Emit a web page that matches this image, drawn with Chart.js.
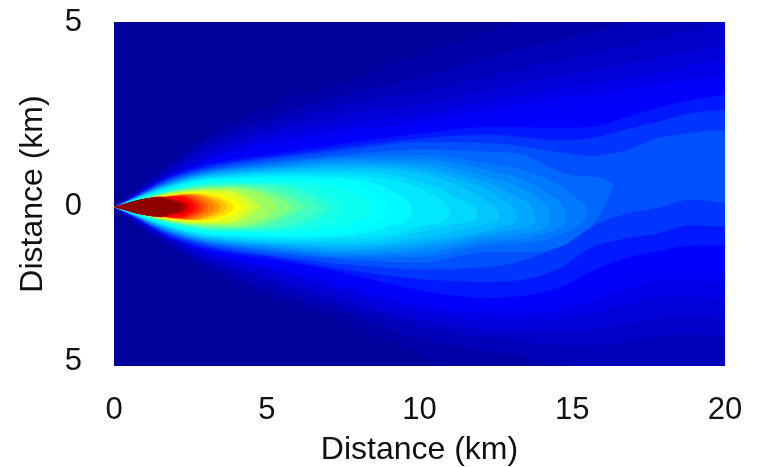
<!DOCTYPE html>
<html>
<head>
<meta charset="utf-8">
<title>Plume</title>
<script src="https://cdn.jsdelivr.net/npm/chart.js@4/dist/chart.umd.min.js"></script>
<style>
  html, body { margin: 0; background: #fff; }
  canvas { display: block; }
</style>
</head>
<body>
<canvas id="plume" width="759" height="467"></canvas>
<script>
// Axis ticks. The picture's left axis is not evenly spaced: 0 sits on the plume
// axis and the lower 5 is placed by hand, so the tick values are read off as drawn.
const xTicks = [0, 5, 10, 15, 20];
const yTickValues = [5, 0, -4.17];
const yTickLabels = ['5', '0', '5'];

// Filled contours, lowest level first. For each level: colour, distance along the
// plume (km), and the upper and lower edge of the contour (km) at those distances.
const farX = [0, 1, 3, 5, 8, 10, 13, 15, 17, 18.5, 20];
const wideX = [0, .6, 1.7, 2.8, 3.9, 5.4, 7.6, 10, 12.3, 14.5, 15.6, 16.7, 17.8, 18.9, 20];

const levelColors = [
  '#00009a', '#0000a8', '#0000b8', '#0000c8', '#0000d8', '#0000e8', '#0000f8', '#0000ff',
  '#0018ff', '#0034ff', '#0050ff', '#0068ff', '#0078ff', '#0088ff', '#0098ff', '#00a8ff',
  '#00b8ff', '#00c8ff', '#00d8ff', '#00e8ff', '#00f8ff', '#00ffff', '#0cfff3', '#18ffe7',
  '#2cffd3', '#40ffbf', '#60ff9f', '#80ff80', '#a0ff60', '#c0ff40', '#e0ff20', '#ffff00',
  '#ffe000', '#ffc000', '#ffa000', '#ff8000', '#ff6000', '#ff4000', '#ff2000', '#ff0000',
  '#e00000', '#c00000', '#a80000', '#8f0000',
];

const levelX = [
  [0, 20],
  farX, farX, farX, farX, farX, farX, farX,
  wideX, wideX, wideX,
  [0, .6, 1.7, 2.8, 3.9, 5.4, 7.6, 10, 12.3, 13.4, 14.3, 15, 16, 16.35],
  [0, .6, 1.7, 2.8, 3.9, 5.4, 7.6, 10, 12.3, 13.4, 14.5, 15.2, 15.45, 15.5],
  [0, .6, 1.7, 2.8, 3.9, 5.4, 7.6, 10, 12.3, 13.4, 14.2, 14.72, 14.8],
  [0, .6, 1.7, 2.8, 3.9, 5.4, 7.6, 10, 12.3, 13.4, 14, 14.22, 14.3],
  [0, .6, 1.7, 2.8, 3.9, 5.4, 7.6, 10, 12.3, 13.2, 13.72, 13.8],
  [0, .6, 1.7, 2.8, 3.9, 5.4, 7.6, 10, 12.3, 12.9, 13.12, 13.2],
  [0, .6, 1.7, 2.8, 3.9, 5.4, 7.6, 10, 11.5, 12.3, 12.52, 12.6],
  [0, .6, 1.7, 2.8, 3.9, 5.4, 7.6, 9, 10.5, 11.5, 11.82, 11.9],
  [0, .6, 1.7, 2.8, 3.9, 5.4, 7.6, 9, 10.3, 10.92, 11],
  [0, .6, 1.7, 2.8, 3.9, 5.4, 7.6, 9, 9.72, 9.8],
  [0, .6, 1.7, 2.8, 3.9, 5.4, 7.6, 8.5, 9.02, 9.1],
  [0, .6, 1.7, 2.8, 3.9, 5.4, 7, 8, 8.43, 8.5],
  [0, .6, 1.7, 2.8, 3.9, 5.4, 6.5, 7.2, 7.53, 7.6],
  [0, .6, 1.7, 2.8, 3.9, 5.4, 6.3, 6.98, 7.1],
  [0, .6, 1.7, 2.8, 3.9, 5.4, 6.2, 6.62, 6.7],
  [0, .5, 1.7, 2.8, 3.9, 5, 6.1, 6.2],
  [0, .5, 1.7, 2.8, 3.9, 5, 5.72, 5.8],
  [0, .5, 1.7, 2.8, 3.9, 4.9, 5.22, 5.3],
  [0, .5, 1.7, 2.8, 3.6, 4.4, 4.72, 4.8],
  [0, .5, 1.7, 2.8, 3.6, 4.2, 4.42, 4.5],
  [0, .5, 1, 1.7, 2.8, 3.6, 4.12, 4.2],
  [0, .5, 1, 1.7, 2.8, 3.5, 3.88, 3.95],
  [0, .4, 1, 1.7, 2.6, 3.2, 3.64, 3.7],
  [0, .4, 1, 1.7, 2.6, 3.1, 3.44, 3.5],
  [0, .4, 1, 1.7, 2.4, 3, 3.25, 3.3],
  [0, .3, 1, 1.7, 2.4, 2.8, 3.05, 3.1],
  [0, .3, 1, 1.7, 2.3, 2.7, 2.9, 2.95],
  [0, .3, 1, 1.7, 2.2, 2.55, 2.75, 2.8],
  [0, .3, 1, 1.6, 2.1, 2.45, 2.6, 2.65],
  [0, .3, .6, 1, 1.5, 2, 2.45, 2.5],
  [0, .3, .6, 1, 1.5, 2, 2.35, 2.4],
  [0, .3, .6, 1, 1.5, 1.9, 2.25, 2.3],
  [0, .3, .6, 1, 1.5, 1.9, 2.15, 2.2],
];

const levelUp = [
  [5, 5],
  [0, .65, 1.9, 2.7, 3.5, 4.1, 4.92, 5.5, 6, 6.4, 6.8],
  [0, .6, 1.75, 2.4, 3.15, 3.5, 4.2, 4.6, 5, 5.3, 5.6],
  [0, .55, 1.6, 2.2, 2.85, 3.1, 3.7, 4.05, 4.4, 4.7, 5],
  [0, .5, 1.45, 2, 2.55, 2.75, 3.3, 3.6, 3.9, 4.15, 4.4],
  [0, .47, 1.3, 1.85, 2.3, 2.5, 3, 3.25, 3.5, 3.75, 4],
  [0, .45, 1.22, 1.7, 2.1, 2.3, 2.75, 3, 3.2, 3.4, 3.55],
  [0, .42, 1.18, 1.5, 1.9, 2.15, 2.54, 2.7, 2.9, 3.1, 3.3],
  [0, .26, .78, 1.1, 1.28, 1.45, 1.72, 1.98, 2.16, 2.14, 2.16, 2.41, 2.68, 2.89, 3.03],
  [0, .25, .74, 1.04, 1.22, 1.38, 1.62, 1.85, 1.95, 1.81, 1.86, 2.08, 2.3, 2.54, 2.62],
  [0, .24, .7, .99, 1.17, 1.33, 1.54, 1.75, 1.73, 1.49, 1.38, 1.51, 1.86, 2, 2.08],
  [0, .23, .67, .95, 1.1, 1.25, 1.42, 1.55, 1.49, 1.41, 1.05, .86, .78, .6],
  [0, .22, .65, .92, 1.06, 1.2, 1.36, 1.42, 1.16, 1, .62, .2, .02, -.14],
  [0, .22, .63, .9, 1.03, 1.15, 1.3, 1.3, .98, .74, .35, -.02, -.25],
  [0, .21, .61, .87, 1, 1.1, 1.24, 1.2, .8, .48, .15, -.04, -.27],
  [0, .21, .59, .85, .97, 1.06, 1.17, 1.1, .62, .25, -.05, -.27],
  [0, .2, .57, .82, .93, 1.02, 1.1, 1, .42, .1, -.06, -.27],
  [0, .2, .55, .8, .9, .98, 1.03, .9, .5, .08, -.05, -.25],
  [0, .19, .53, .77, .86, .93, .95, .88, .55, .12, -.02, -.2],
  [0, .18, .51, .74, .82, .88, .86, .76, .38, 0, -.15],
  [0, .17, .49, .71, .78, .82, .78, .48, .05, -.1],
  [0, .16, .47, .68, .74, .76, .7, .42, .06, -.08],
  [0, .15, .45, .65, .7, .71, .62, .3, .05, -.05],
  [0, .14, .43, .62, .67, .65, .54, .3, .06, -.03],
  [0, .14, .42, .6, .64, .6, .42, .09, -.02],
  [0, .13, .41, .57, .61, .54, .3, .06, -.02],
  [0, .11, .39, .54, .58, .48, .08, -.02],
  [0, .11, .38, .51, .54, .38, .08, 0],
  [0, .1, .36, .48, .5, .3, .08, 0],
  [0, .1, .35, .45, .46, .27, .08, 0],
  [0, .1, .33, .43, .43, .25, .08, 0],
  [0, .09, .2, .31, .39, .3, .08, 0],
  [0, .09, .19, .3, .37, .26, .08, 0],
  [0, .08, .2, .29, .36, .26, .08, 0],
  [0, .08, .19, .28, .35, .25, .08, 0],
  [0, .08, .19, .28, .34, .22, .08, 0],
  [0, .07, .18, .27, .32, .22, .08, 0],
  [0, .07, .18, .27, .31, .2, .08, 0],
  [0, .07, .18, .27, .3, .2, .08, 0],
  [0, .07, .18, .26, .29, .18, .08, 0],
  [0, .07, .15, .22, .28, .2, .08, 0],
  [0, .07, .15, .22, .27, .19, .07, 0],
  [0, .07, .14, .22, .26, .17, .07, 0],
  [0, .07, .14, .22, .25, .16, .07, 0],
];

const levelLo = [
  [-4.3, -4.3],
  [0, -.65, -1.7, -2.4, -3.25, -4, -5, -5.5, -6, -6, -6],
  [0, -.6, -1.55, -2.2, -3, -3.55, -4, -4.3, -4.4, -4.3, -4.4],
  [0, -.55, -1.45, -2, -2.8, -3.25, -3.6, -3.75, -3.65, -3.45, -3.5],
  [0, -.5, -1.35, -1.85, -2.6, -3.05, -3.35, -3.35, -3.1, -2.95, -3.05],
  [0, -.47, -1.25, -1.7, -2.4, -2.85, -3.1, -2.95, -2.6, -2.4, -2.55],
  [0, -.45, -1.22, -1.6, -2.25, -2.65, -2.9, -2.7, -2.15, -1.95, -2.05],
  [0, -.42, -1.18, -1.5, -2.05, -2.45, -2.72, -2.4, -1.85, -1.7, -1.8],
  [0, -.26, -.78, -1.1, -1.28, -1.45, -1.8, -2.25, -2.46, -2.2, -1.75, -1.4, -1.2, -1.05, -1.05],
  [0, -.25, -.74, -1.04, -1.22, -1.38, -1.7, -1.95, -2.03, -1.7, -1.1, -.86, -.72, -.49, -.54],
  [0, -.24, -.7, -.99, -1.17, -1.33, -1.55, -1.68, -1.62, -1.1, -.55, -.2, -.03, .2, .1],
  [0, -.23, -.67, -.95, -1.1, -1.25, -1.42, -1.5, -1.22, -1.22, -1.16, -.9, -.1, .6],
  [0, -.22, -.65, -.92, -1.06, -1.2, -1.36, -1.35, -1.02, -.98, -.8, -.5, -.3, -.14],
  [0, -.22, -.63, -.9, -1.03, -1.15, -1.3, -1.25, -.92, -.85, -.68, -.45, -.25],
  [0, -.21, -.61, -.87, -1, -1.1, -1.24, -1.15, -.82, -.72, -.6, -.47, -.27],
  [0, -.21, -.59, -.85, -.97, -1.06, -1.17, -1.05, -.72, -.58, -.46, -.27],
  [0, -.2, -.57, -.82, -.93, -1.02, -1.1, -.95, -.62, -.48, -.42, -.27],
  [0, -.2, -.55, -.8, -.9, -.98, -1.03, -.85, -.6, -.44, -.4, -.25],
  [0, -.19, -.53, -.77, -.86, -.93, -.95, -.85, -.58, -.42, -.36, -.2],
  [0, -.18, -.51, -.74, -.82, -.88, -.86, -.76, -.48, -.32, -.15],
  [0, -.17, -.49, -.71, -.78, -.82, -.78, -.52, -.25, -.1],
  [0, -.16, -.47, -.68, -.74, -.76, -.7, -.48, -.22, -.08],
  [0, -.15, -.45, -.65, -.7, -.71, -.62, -.36, -.15, -.05],
  [0, -.14, -.43, -.62, -.67, -.65, -.54, -.33, -.12, -.03],
  [0, -.14, -.42, -.6, -.64, -.6, -.42, -.13, -.02],
  [0, -.13, -.41, -.57, -.61, -.54, -.3, -.1, -.02],
  [0, -.11, -.39, -.54, -.58, -.48, -.08, -.02],
  [0, -.11, -.38, -.51, -.54, -.38, -.08, 0],
  [0, -.1, -.36, -.48, -.5, -.3, -.08, 0],
  [0, -.1, -.35, -.45, -.46, -.27, -.08, 0],
  [0, -.1, -.33, -.43, -.43, -.25, -.08, 0],
  [0, -.09, -.2, -.31, -.39, -.3, -.08, 0],
  [0, -.09, -.19, -.3, -.37, -.26, -.08, 0],
  [0, -.08, -.2, -.29, -.36, -.26, -.08, 0],
  [0, -.08, -.19, -.28, -.35, -.25, -.08, 0],
  [0, -.08, -.19, -.28, -.34, -.22, -.08, 0],
  [0, -.07, -.18, -.27, -.32, -.22, -.08, 0],
  [0, -.07, -.18, -.27, -.31, -.2, -.08, 0],
  [0, -.07, -.18, -.27, -.3, -.2, -.08, 0],
  [0, -.07, -.18, -.26, -.29, -.18, -.08, 0],
  [0, -.07, -.15, -.22, -.28, -.2, -.08, 0],
  [0, -.07, -.15, -.22, -.27, -.19, -.07, 0],
  [0, -.07, -.14, -.22, -.26, -.17, -.07, 0],
  [0, -.07, -.14, -.22, -.25, -.16, -.07, 0],
];

// first dataset ends up on top, so the levels go in from the highest down
const datasets = [];
for (let i = levelColors.length - 1; i >= 0; i--) {
    const xs = levelX[i];
    const edge = {
        borderWidth: 0,
        pointRadius: 0,
        cubicInterpolationMode: 'monotone',
    };
    datasets.push({
        ...edge,
        data: xs.map((x, j) => ({ x, y: levelUp[i][j] })),
        backgroundColor: levelColors[i],
        fill: '+1',
    });
    datasets.push({
        ...edge,
        data: xs.map((x, j) => ({ x, y: levelLo[i][j] })),
        fill: false,
    });
}

const tickFont = { family: '"Liberation Sans", Arial, sans-serif', size: 31 };
const titleFont = { family: '"Liberation Sans", Arial, sans-serif', size: 32, lineHeight: 1.05 };

new Chart(document.getElementById('plume'), {
    type: 'line',
    data: { datasets },
    options: {
        responsive: false,
        animation: false,
        layout: { padding: { top: 22, right: 34, left: 0, bottom: 0 } },
        plugins: { legend: { display: false }, tooltip: { enabled: false } },
        scales: {
            x: {
                type: 'linear',
                min: 0,
                max: 20,
                afterBuildTicks: axis => { axis.ticks = xTicks.map(value => ({ value })); },
                afterFit: axis => {
                    axis.height = 101;
                    axis.paddingLeft = 0;
                    axis.paddingRight = 0;
                },
                ticks: { color: '#111', font: tickFont, padding: 18, maxRotation: 0, autoSkip: false },
                grid: { display: false },
                border: { display: false },
                title: { display: true, text: 'Distance (km)', color: '#111', font: titleFont, padding: 0 },
            },
            y: {
                type: 'linear',
                min: -4.3,
                max: 5,
                afterBuildTicks: axis => { axis.ticks = yTickValues.map(value => ({ value })); },
                afterFit: axis => {
                    axis.width = 114;
                    axis.paddingTop = 0;
                    axis.paddingBottom = 0;
                },
                ticks: {
                    color: '#111',
                    font: tickFont,
                    padding: 24,
                    autoSkip: false,
                    callback: (value, i) => yTickLabels[i],
                },
                grid: { display: false },
                border: { display: false },
                title: { display: true, text: 'Distance (km)', color: '#111', font: titleFont, padding: { top: 16, bottom: 0 } },
            },
        },
    },
});
</script>
</body>
</html>
